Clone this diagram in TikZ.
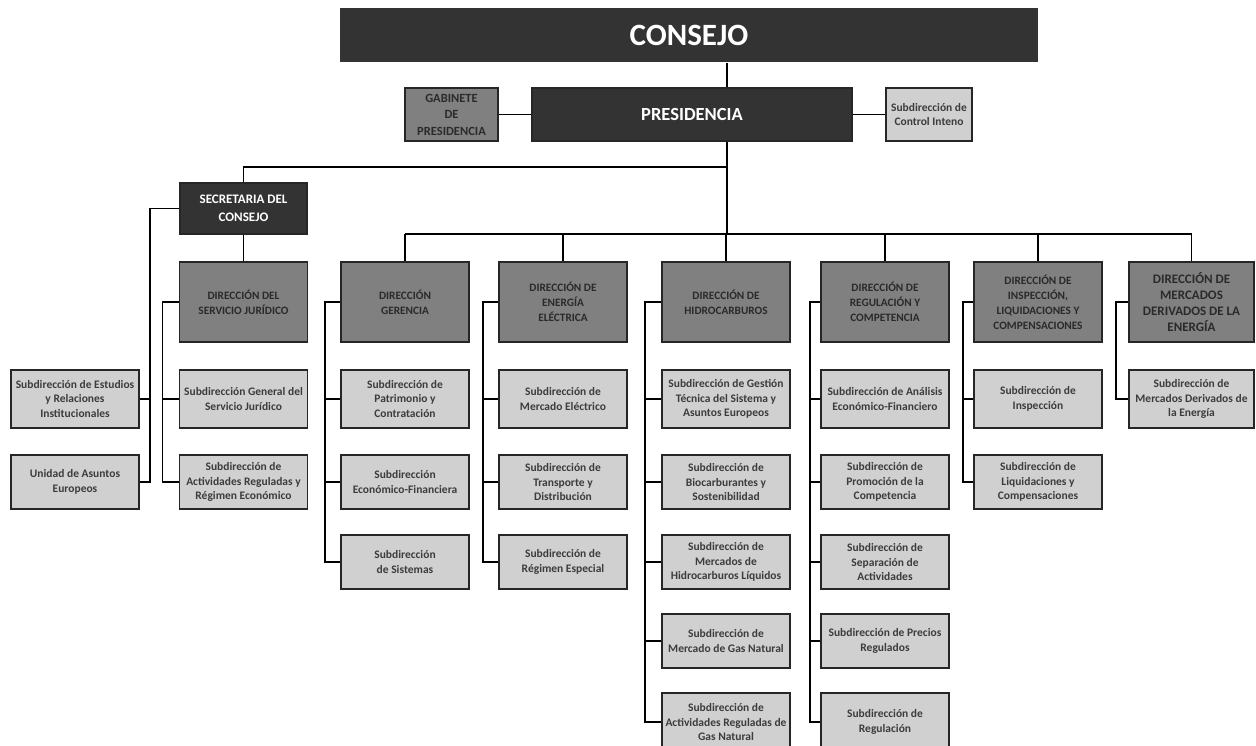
\documentclass[tikz,border=0pt]{standalone}
\usepackage{fontspec}
\setmainfont{Carlito}
\definecolor{cDark}{HTML}{333333}
\definecolor{cMid}{HTML}{808080}
\definecolor{cLight}{HTML}{D0D0D0}
\definecolor{cText}{HTML}{2A2A2A}
\definecolor{cSub}{HTML}{3C3C3C}
\tikzset{
  box/.style={rectangle, draw=black!85, line width=1.8pt, inner sep=1pt, align=center,
    font=\bfseries\fontsize{11.5}{14.5}\selectfont},
  darkbox/.style={box, fill=cDark, text=white},
  dirbox/.style={box, fill=cMid, text=cText, minimum width=128pt, minimum height=80pt,
    font=\bfseries\fontsize{11.3}{15}\selectfont},
  subbox/.style={box, fill=cLight, text=cSub, minimum width=128pt, minimum height=54pt},
  link/.style={line width=1.6pt, black}
}
\begin{document}
\begin{tikzpicture}[x=1pt, y=-1pt]
    % page frame
    \path [use as bounding box] (0,0) rectangle (1256,745);
    \clip (0,0) rectangle (1256,745);
    % set coordinates
    \coordinate (axis) at (727,0);
    \coordinate (bus) at (0,234);
    \coordinate (secbus) at (0,167);
    % top of the chart
    \node [darkbox, draw=none, minimum width=698pt, minimum height=54pt,
      font=\bfseries\fontsize{31}{33}\selectfont] (consejo) at (689,35) {CONSEJO};
    \node [box, fill=cMid, text=cText, minimum width=93pt, minimum height=53pt,
      font=\bfseries\fontsize{12.5}{16.5}\selectfont] (gabinete) at (451.5,114.5) {GABINETE\\DE\\PRESIDENCIA};
    \node [darkbox, minimum width=320pt, minimum height=53pt,
      font=\bfseries\fontsize{18.5}{20}\selectfont] (presidencia) at (692,114.5) {PRESIDENCIA};
    \node [subbox, minimum width=86pt, minimum height=53pt] (control) at (929,114.5) {Subdirección de\\Control Inteno};
    \node [darkbox, minimum width=127pt, minimum height=51pt,
      font=\bfseries\fontsize{13}{17.5}\selectfont] (secretaria) at (243.5,208.5) {SECRETARIA DEL\\CONSEJO};
    % direcciones
    \node [dirbox] (juridico) at (243.5,302) {DIRECCIÓN DEL\\SERVICIO JURÍDICO};
    \node [dirbox] (gerencia) at (405,302) {DIRECCIÓN\\GERENCIA};
    \node [dirbox] (energia) at (563,302) {DIRECCIÓN DE\\ENERGÍA\\ELÉCTRICA};
    \node [dirbox] (hidro) at (726,302) {DIRECCIÓN DE\\HIDROCARBUROS};
    \node [dirbox] (regulacion) at (885,302) {DIRECCIÓN DE\\REGULACIÓN Y\\COMPETENCIA};
    \node [dirbox] (inspeccion) at (1038,302) {DIRECCIÓN DE\\INSPECCIÓN,\\LIQUIDACIONES Y\\COMPENSACIONES};
    \node [dirbox, minimum width=125pt, font=\bfseries\fontsize{13}{16}\selectfont] (mercados) at (1191.5,302)
      {DIRECCIÓN DE\\MERCADOS\\DERIVADOS DE LA\\ENERGÍA};
    % subdirecciones
    \node [subbox, minimum height=58pt] (estudios) at (75,399) {Subdirección de Estudios\\y Relaciones\\Institucionales};
    \node [subbox] (unidad) at (75,482) {Unidad de Asuntos\\Europeos};
    \node [subbox, minimum height=58pt] (general) at (243.5,399) {Subdirección General del\\Servicio Jurídico};
    \node [subbox] (actividades) at (243.5,482) {Subdirección de\\Actividades Reguladas y\\Régimen Económico};
    \node [subbox, minimum height=58pt] (patrimonio) at (405,399) {Subdirección de\\Patrimonio y\\Contratación};
    \node [subbox] (economica) at (405,482) {Subdirección\\Económico-Financiera};
    \node [subbox] (sistemas) at (405,562) {Subdirección\\de Sistemas};
    \node [subbox, minimum height=58pt] (mercadoelec) at (563,399) {Subdirección de\\Mercado Eléctrico};
    \node [subbox] (transporte) at (563,482) {Subdirección de\\Transporte y\\Distribución};
    \node [subbox] (especial) at (563,562) {Subdirección de\\Régimen Especial};
    \node [subbox, minimum height=58pt] (gestion) at (726,399) {Subdirección de Gestión\\Técnica del Sistema y\\Asuntos Europeos};
    \node [subbox] (biocarb) at (726,482) {Subdirección de\\Biocarburantes y\\Sostenibilidad};
    \node [subbox] (liquidos) at (726,562) {Subdirección de\\Mercados de\\Hidrocarburos Líquidos};
    \node [subbox] (gasnat) at (726,641) {Subdirección de\\Mercado de Gas Natural};
    \node [subbox, minimum height=58pt] (actgas) at (726,722) {Subdirección de\\Actividades Reguladas de\\Gas Natural};
    \node [subbox, minimum height=58pt] (analisis) at (885,399) {Subdirección de Análisis\\Económico-Financiero};
    \node [subbox] (promocion) at (885,482) {Subdirección de\\Promoción de la\\Competencia};
    \node [subbox] (separacion) at (885,562) {Subdirección de\\Separación de\\Actividades};
    \node [subbox] (precios) at (885,641) {Subdirección de Precios\\Regulados};
    \node [subbox, minimum height=58pt] (regsub) at (885,722) {Subdirección de\\Regulación};
    \node [subbox, minimum height=58pt] (inspsub) at (1038,399) {Subdirección de\\Inspección};
    \node [subbox] (liquidsub) at (1038,482) {Subdirección de\\Liquidaciones y\\Compensaciones};
    \node [subbox, minimum width=125pt, minimum height=58pt] (mercsub) at (1191.5,399) {Subdirección de\\Mercados Derivados de\\la Energía};
    % upper links
    \draw [link] (consejo.south -| axis) -- (presidencia.north -| axis);
    \draw [link] (gabinete) -- (presidencia);
    \draw [link] (presidencia) -- (control);
    \draw [link] (presidencia.south -| axis) -- (axis |- bus);
    \draw [link] (axis |- secbus) -| (secretaria.north);
    \draw [link] (secretaria) -- (juridico);
    \draw [link] (secretaria.west) -- ++(-29,0) |- (unidad.east);
    \draw [link] (estudios.east) -- ++(10,0);
    % bus to the direcciones
    \draw [link] (gerencia.north |- bus) -- (mercados.north |- bus);
    \draw [link] (gerencia.north |- bus) -- (gerencia.north);
    \draw [link] (energia.north |- bus) -- (energia.north);
    \draw [link] (hidro.north |- bus) -- (hidro.north);
    \draw [link] (regulacion.north |- bus) -- (regulacion.north);
    \draw [link] (inspeccion.north |- bus) -- (inspeccion.north);
    \draw [link] (mercados.north |- bus) -- (mercados.north);
    % rails down each direccion
    \draw [link] (juridico.west) -- ++(-16,0) |- (actividades.west);
    \draw [link] (general.west) -- ++(-16,0);
    \draw [link] (gerencia.west) -- ++(-15,0) |- (sistemas.west);
    \draw [link] (patrimonio.west) -- ++(-15,0);
    \draw [link] (economica.west) -- ++(-15,0);
    \draw [link] (energia.west) -- ++(-15,0) |- (especial.west);
    \draw [link] (mercadoelec.west) -- ++(-15,0);
    \draw [link] (transporte.west) -- ++(-15,0);
    \draw [link] (hidro.west) -- ++(-16,0) |- (actgas.west);
    \draw [link] (gestion.west) -- ++(-16,0);
    \draw [link] (biocarb.west) -- ++(-16,0);
    \draw [link] (liquidos.west) -- ++(-16,0);
    \draw [link] (gasnat.west) -- ++(-16,0);
    \draw [link] (regulacion.west) -- ++(-10,0) |- (regsub.west);
    \draw [link] (analisis.west) -- ++(-10,0);
    \draw [link] (promocion.west) -- ++(-10,0);
    \draw [link] (separacion.west) -- ++(-10,0);
    \draw [link] (precios.west) -- ++(-10,0);
    \draw [link] (inspeccion.west) -- ++(-10,0) |- (liquidsub.west);
    \draw [link] (inspsub.west) -- ++(-10,0);
    \draw [link] (mercados.west) -- ++(-12,0) |- (mercsub.west);
\end{tikzpicture}
\end{document}
